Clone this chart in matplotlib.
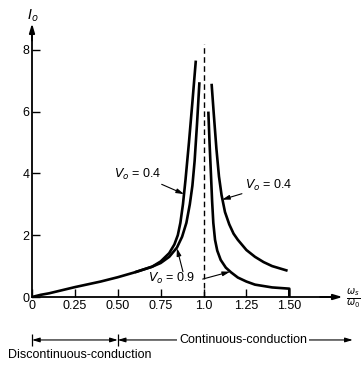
import numpy as np
import matplotlib
matplotlib.use("Agg")
from matplotlib import pyplot as plt

# shared discontinuous-conduction part (both curves coincide)
x_low = [0.0, 0.05, 0.1, 0.25, 0.4, 0.5, 0.6, 0.7]
i_low = [0.0, 0.07, 0.12, 0.32, 0.5, 0.64, 0.8, 0.98]

# Vo = 0.4, below resonance
x_04_left = [0.75, 0.8, 0.83, 0.85, 0.865, 0.88, 0.895, 0.915, 0.935, 0.955]
i_04_left = [1.15, 1.42, 1.7, 2.0, 2.4, 3.0, 3.8, 5.0, 6.3, 7.65]
# Vo = 0.9, below resonance
x_09_left = [0.75, 0.8, 0.845, 0.875, 0.9, 0.92, 0.935, 0.948, 0.962, 0.976]
i_09_left = [1.1, 1.3, 1.6, 1.95, 2.4, 3.0, 3.6, 4.4, 5.6, 6.95]

# Vo = 0.4, above resonance
x_04_right = [1.047, 1.06, 1.075, 1.09, 1.105, 1.125, 1.15, 1.175, 1.2, 1.25, 1.3, 1.35, 1.4, 1.49]
i_04_right = [6.9, 5.9, 4.8, 3.9, 3.3, 2.75, 2.35, 2.05, 1.85, 1.52, 1.3, 1.13, 1.0, 0.85]
# Vo = 0.9, above resonance
x_09_right = [1.028, 1.035, 1.043, 1.05, 1.057, 1.067, 1.08, 1.1, 1.13, 1.16, 1.2, 1.25, 1.3, 1.4, 1.5, 1.5]
i_09_right = [6.0, 5.0, 4.0, 3.1, 2.4, 1.85, 1.5, 1.2, 0.95, 0.8, 0.63, 0.5, 0.4, 0.31, 0.27, 0.0]

xticks = [0, 0.25, 0.5, 0.75, 1.0, 1.25, 1.5]
xticklabels = ["0", "0.25", "0.50", "0.75", "1.0", "1.25", "1.50"]
yticks = [0, 2, 4, 6, 8]


def main():
    matplotlib.rc('font', family=['Liberation Sans', 'DejaVu Sans'], size=9)

    fig = plt.figure(figsize=(3.61, 3.65), dpi=100, facecolor='w')
    ax = fig.add_axes([0, 0, 1, 1])
    ax.set_xlim(-0.1866, 1.918)
    ax.set_ylim(-2.20, 9.61)

    lw = 1.9
    style = dict(color='k', lw=lw, solid_capstyle='butt', solid_joinstyle='round')
    ax.plot(x_low + x_04_left, i_low + i_04_left, **style)
    ax.plot(x_low[-2:] + x_09_left, i_low[-2:] + i_09_left, **style)
    ax.plot(x_04_right, i_04_right, **style)
    ax.plot(x_09_right, i_09_right, **style)

    # resonance line
    ax.vlines(1.0, 0, 8.2, colors='k', linestyles=(0, (4, 2.5)), lw=1.0)

    # axes through origin
    for side in ['top', 'right']:
        ax.spines[side].set_visible(False)
    ax.spines['left'].set_position(('data', 0))
    ax.spines['bottom'].set_position(('data', 0))
    ax.spines['left'].set_bounds(0, 8.6)
    ax.spines['bottom'].set_bounds(0, 1.76)
    ax.spines['left'].set_linewidth(1.3)
    ax.spines['bottom'].set_linewidth(1.3)
    arrow = dict(arrowstyle='-|>,head_length=0.6,head_width=0.18', color='k', lw=1.3,
                 shrinkA=0, shrinkB=0)
    ax.annotate('', xy=(0, 8.85), xytext=(0, 8.3), arrowprops=arrow)
    ax.annotate('', xy=(1.81, 0), xytext=(1.68, 0), arrowprops=arrow)

    ax.set_xticks(xticks)
    ax.set_xticklabels(xticklabels)
    ax.set_yticks(yticks)
    ax.tick_params(direction='in', length=6, width=1.0, pad=2, labelsize=9)

    ax.text(0.005, 9.1, r'$I_o$', fontsize=10, ha='center', va='center')
    ax.text(1.83, -0.05, r'$\frac{\omega_s}{\omega_0}$', fontsize=10, ha='left', va='center')

    # curve labels
    ann = dict(arrowstyle='-|>,head_length=0.5,head_width=0.15', color='k', lw=0.8,
               shrinkA=0, shrinkB=0)
    ax.annotate(r'$V_o$ = 0.4', xy=(0.886, 3.33), xytext=(0.48, 3.98),
                ha='left', va='center', arrowprops=ann)
    ax.annotate(r'$V_o$ = 0.4', xy=(1.108, 3.15), xytext=(1.24, 3.6),
                ha='left', va='center', arrowprops=ann)
    ax.text(0.676, 0.61, r'$V_o$ = 0.9', ha='left', va='center')
    ax.annotate('', xy=(0.845, 1.58), xytext=(0.88, 0.82), arrowprops=ann)
    ax.annotate('', xy=(1.155, 0.82), xytext=(0.995, 0.58), arrowprops=ann)

    # conduction mode ranges
    yb = -1.39
    rng = dict(arrowstyle='<|-|>,head_length=0.5,head_width=0.15', color='k', lw=0.8,
               shrinkA=0, shrinkB=0)
    ax.annotate('', xy=(0, yb), xytext=(0.5, yb), arrowprops=rng)
    ax.annotate('', xy=(0.5, yb), xytext=(1.87, yb), arrowprops=rng)
    ax.vlines([0, 0.5], yb - 0.18, yb + 0.18, colors='k', lw=0.9)
    ax.text(1.23, yb, 'Continuous-conduction', ha='center', va='center',
            bbox=dict(facecolor='w', edgecolor='none', pad=1.5))
    ax.text(0.28, -1.88, 'Discontinuous-conduction', ha='center', va='center')

    fig.savefig("out.png", dpi=100, facecolor='w', edgecolor='w')


if __name__ == "__main__":
    main()
